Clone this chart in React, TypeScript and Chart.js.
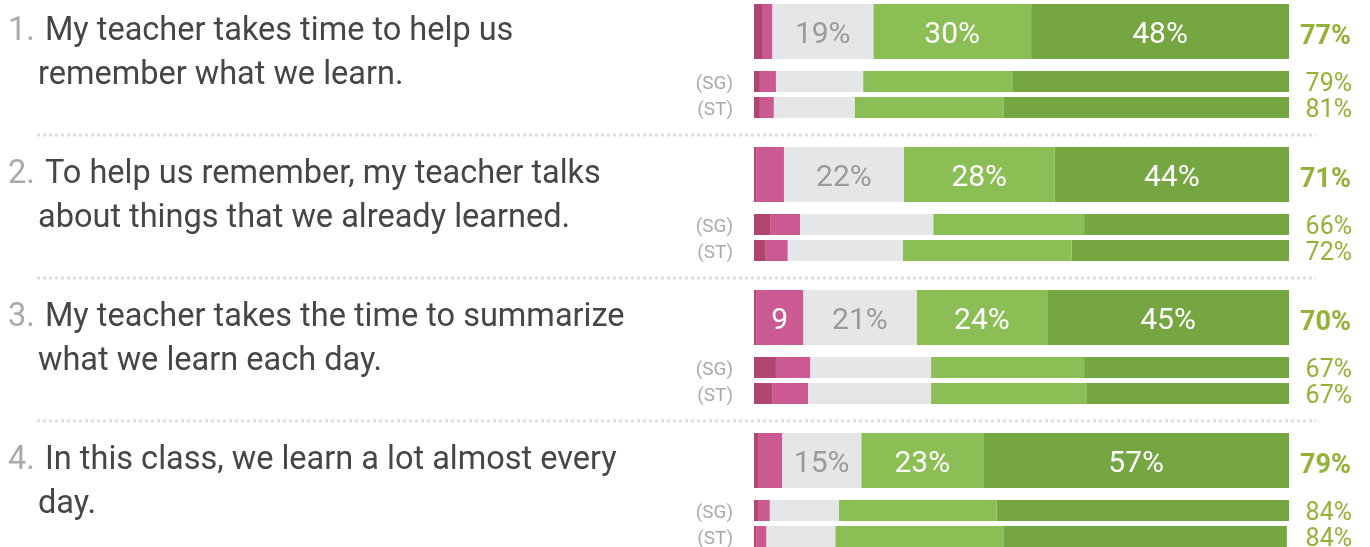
import { useEffect, useRef } from "react";
import { Chart, registerables } from "chart.js";

Chart.register(...registerables);

// ---------- data ----------
const questionNumbers = ["1.", "2.", "3.", "4."];
const questions = [
  "My teacher takes time to help us remember what we learn.",
  "To help us remember, my teacher talks about things that we already learned.",
  "My teacher takes the time to summarize what we learn each day.",
  "In this class, we learn a lot almost every day.",
];
const comparisonLabels = ["(SG)", "(ST)"];
const responseLevels = ["Strongly disagree", "Disagree", "Neutral", "Agree", "Strongly agree"];

// this class (main bars), % per response level
const classStronglyDisagree = [1.5, 0.4, 0.4, 0.75];
const classDisagree = [1.9, 5.2, 8.8, 4.5];
const classNeutral = [18.9, 22.4, 21.2, 14.8];
const classAgree = [29.5, 28.2, 24.4, 22.8];
const classStronglyAgree = [48.2, 43.8, 45.2, 57.15];

// (SG) comparison
const sgStronglyDisagree = [1.1, 3.0, 4.1, 0.75];
const sgDisagree = [3.0, 5.6, 6.4, 2.2];
const sgNeutral = [16.3, 24.9, 22.6, 12.9];
const sgAgree = [28.0, 28.2, 28.6, 29.5];
const sgStronglyAgree = [51.6, 38.3, 38.3, 55.0];

// (ST) comparison
const stStronglyDisagree = [1.1, 2.2, 3.4, 0.4];
const stDisagree = [2.6, 4.1, 6.7, 1.9];
const stNeutral = [15.1, 21.5, 23.0, 12.9];
const stAgree = [27.9, 31.6, 29.0, 31.4];
const stStronglyAgree = [53.6, 40.6, 37.9, 53.0];

// favourable totals shown on the right
const classFavorable = [77, 71, 70, 79];
const sgFavorable = [79, 66, 67, 84];
const stFavorable = [81, 72, 67, 84];

// ---------- styling / layout ----------
const levelColors = ["#b0466f", "#cc5a92", "#e5e6e8", "#8bbe55", "#76a641"];
const levelLabelColors = ["#ffffff", "#ffffff", "#9a9a9a", "#ffffff", "#ffffff"];
const ROW = 143;
const SG_OFF = 50;
const ST_OFF = 76;
const SEP_OFF = 103.5;
const FONT = "Roboto, 'Noto Sans', sans-serif";

const classSeries = [classStronglyDisagree, classDisagree, classNeutral, classAgree, classStronglyAgree];
const sgSeries = [sgStronglyDisagree, sgDisagree, sgNeutral, sgAgree, sgStronglyAgree];
const stSeries = [stStronglyDisagree, stDisagree, stNeutral, stAgree, stStronglyAgree];

const overlayPlugin = {
  id: "overlay",
  afterDatasetsDraw(chart: any) {
    const ctx = chart.ctx as CanvasRenderingContext2D;
    const ys = chart.scales.y;
    ctx.save();

    // segment labels on main bars
    ctx.font = `30px ${FONT}`;
    ctx.textAlign = "center";
    ctx.textBaseline = "alphabetic";
    for (let k = 0; k < 5; k++) {
      const meta = chart.getDatasetMeta(k);
      meta.data.forEach((el: any, i: number) => {
        const v = classSeries[k][i];
        if (v < 8) return;
        const w = Math.abs(el.x - el.base);
        let label = `${Math.round(v)}%`;
        if (ctx.measureText(label).width + 10 > w) label = `${Math.round(v)}`;
        if (ctx.measureText(label).width + 10 > w) return;
        ctx.fillStyle = levelLabelColors[k];
        ctx.fillText(label, (el.x + el.base) / 2, el.y + 11.5);
      });
    }

    questions.forEach((q, i) => {
      const yMain = ys.getPixelForValue(i * ROW);
      const ySg = ys.getPixelForValue(i * ROW + SG_OFF);
      const ySt = ys.getPixelForValue(i * ROW + ST_OFF);

      // right-hand favourable values
      ctx.textAlign = "right";
      ctx.fillStyle = "#93b237";
      ctx.font = `bold 27px ${FONT}`;
      ctx.fillText(`${classFavorable[i]}%`, 1351, yMain + 12);
      ctx.font = `25px ${FONT}`;
      ctx.fillText(`${sgFavorable[i]}%`, 1352, ySg + 9);
      ctx.fillText(`${stFavorable[i]}%`, 1352, ySt + 9);

      // (SG) / (ST)
      ctx.fillStyle = "#aaaaaa";
      ctx.font = `19px ${FONT}`;
      ctx.fillText(comparisonLabels[0], 733, ySg + 7);
      ctx.fillText(comparisonLabels[1], 733, ySt + 7);

      // question text
      ctx.textAlign = "left";
      ctx.font = `32.5px ${FONT}`;
      ctx.fillStyle = "#aaaaaa";
      ctx.fillText(questionNumbers[i], 8, yMain + 8);
      ctx.fillStyle = "#464646";
      const words = q.split(" ");
      const lines: string[] = [];
      let cur = "";
      let startX = 45;
      for (const w of words) {
        const test = cur ? cur + " " + w : w;
        if (startX + ctx.measureText(test).width > 645 && cur) {
          lines.push(cur);
          cur = w;
          startX = 38;
        } else cur = test;
      }
      lines.push(cur);
      lines.forEach((ln, li) => {
        ctx.fillText(ln, li === 0 ? 45 : 38, yMain + 8 + li * 44);
      });

      // dotted separator
      if (i < questions.length - 1) {
        const ySep = ys.getPixelForValue(i * ROW + SEP_OFF);
        ctx.strokeStyle = "#dddddd";
        ctx.lineWidth = 3;
        ctx.setLineDash([3, 3]);
        ctx.beginPath();
        ctx.moveTo(37, ySep);
        ctx.lineTo(1316, ySep);
        ctx.stroke();
        ctx.setLineDash([]);
      }
    });
    ctx.restore();
  },
};

export default function App() {
  const ref = useRef<HTMLCanvasElement>(null);
  useEffect(() => {
    if (!ref.current) return;
    const datasets: any[] = [];
    for (let k = 0; k < 5; k++) {
      datasets.push({
        label: responseLevels[k],
        data: questions.map((_, i) => ({ x: classSeries[k][i], y: i * ROW })),
        backgroundColor: levelColors[k],
        borderWidth: 0,
        grouped: false,
        barPercentage: 10,
        categoryPercentage: 1,
        maxBarThickness: 55,
      });
    }
    for (let k = 0; k < 5; k++) {
      datasets.push({
        label: responseLevels[k] + " (comparison)",
        data: questions.flatMap((_, i) => [
          { x: sgSeries[k][i], y: i * ROW + SG_OFF },
          { x: stSeries[k][i], y: i * ROW + ST_OFF },
        ]),
        backgroundColor: levelColors[k],
        borderWidth: 0,
        grouped: false,
        barPercentage: 10,
        categoryPercentage: 1,
        maxBarThickness: 21,
      });
    }
    const chart = new Chart(ref.current, {
      type: "bar",
      data: { datasets },
      options: {
        indexAxis: "y",
        responsive: false,
        animation: false,
        layout: { padding: { left: 754, right: 81, top: 0, bottom: 0 } },
        scales: {
          x: { type: "linear", stacked: true, min: 0, max: 100, display: false, offset: false },
          y: {
            type: "linear",
            min: -31.5,
            max: 515.5,
            reverse: true,
            display: false,
            offset: false,
            grid: { offset: false },
          },
        },
        plugins: { legend: { display: false }, tooltip: { enabled: false } },
      } as any,
      plugins: [overlayPlugin],
    });
    (document as any).fonts?.load?.(`33px Roboto`).then(() => chart.update()).catch(() => {});
    return () => chart.destroy();
  }, []);
  return (
    <div style={{ position: "absolute", left: 0, top: 0, width: 1370, height: 547, background: "#fff" }}>
      <canvas ref={ref} width={1370} height={547} />
    </div>
  );
}
